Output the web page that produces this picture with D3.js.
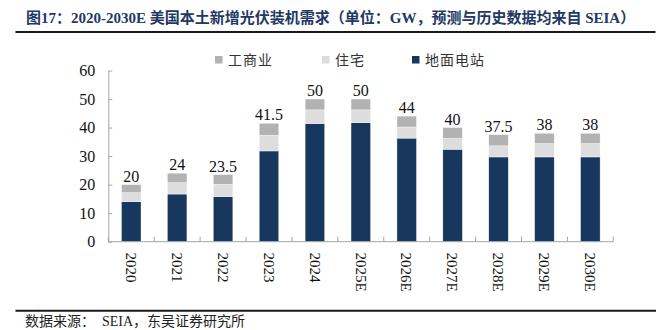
<!DOCTYPE html>
<html><head><meta charset="utf-8">
<script src="https://cdn.jsdelivr.net/npm/d3@7/dist/d3.min.js"></script>
<style>
html,body{margin:0;padding:0;background:#fff;}
svg{display:block;}
</style></head>
<body>
<svg id="chart" width="666" height="330"></svg>
<script>
// ---- data ----
const categories = ["2020","2021","2022","2023","2024","2025E","2026E","2027E","2028E","2029E","2030E"];
const groundValues = [14.0, 16.7, 15.8, 31.8, 41.4, 41.7, 36.3, 32.4, 29.7, 29.7, 29.7];
const residentialValues = [3.2, 4.0, 4.3, 5.5, 4.8, 4.5, 3.9, 3.8, 3.9, 4.7, 4.7];
const commercialValues = [2.8, 3.3, 3.4, 4.2, 3.8, 3.8, 3.8, 3.8, 3.9, 3.6, 3.6];
const totalLabels = ["20","24","23.5","41.5","50","50","44","40","37.5","38","38"];
const yTicks = [0,10,20,30,40,50,60];
const seriesNames = ["地面电站","住宅","工商业"];
const legendOrder = ["工商业","住宅","地面电站"];
const titleText = "图17：2020-2030E 美国本土新增光伏装机需求（单位：GW，预测与历史数据均来自 SEIA）";
const sourceText = "数据来源：  SEIA，东吴证券研究所";

const colors = {"地面电站":"#17375E","住宅":"#DDDDDD","工商业":"#B2B2B2"};
const serif = "'Liberation Serif','Times New Roman','Noto Sans CJK SC',serif";

const svg = d3.select("#chart");

// title
svg.append("text").attr("x",26).attr("y",22.5)
  .attr("font-family",serif).attr("font-weight","bold").attr("font-size",15)
  .attr("fill","#1F3864").text(titleText);
svg.append("line").attr("x1",15.5).attr("x2",655.5).attr("y1",32).attr("y2",32)
  .attr("stroke","#1a1a1a").attr("stroke-width",2);

// scales
const x = d3.scaleBand().domain(categories).range([108.3,613.3])
  .paddingInner(0.575).paddingOuter(0.2875);
const y = d3.scaleLinear().domain([0,60]).range([241.7,70.5]);

// stacked data
const rows = categories.map((c,i)=>({cat:c,"地面电站":groundValues[i],"住宅":residentialValues[i],"工商业":commercialValues[i]}));
const stack = d3.stack().keys(seriesNames)(rows);

const g = svg.append("g");
stack.forEach(layer=>{
  g.selectAll(null).data(layer).enter().append("rect")
    .attr("x",d=>x(d.data.cat))
    .attr("width",x.bandwidth())
    .attr("y",d=>y(d[1]))
    .attr("height",d=>y(d[0])-y(d[1]))
    .attr("fill",colors[layer.key])
    .attr("stroke","#ffffff").attr("stroke-width",0.5).attr("stroke-opacity",0.7);
});

// total labels
g.selectAll(null).data(rows).enter().append("text")
  .attr("x",d=>x(d.cat)+x.bandwidth()/2)
  .attr("y",(d,i)=>y(stack[2][i][1])-3)
  .attr("text-anchor","middle")
  .attr("font-family",serif).attr("font-size",16).attr("fill","#111")
  .text((d,i)=>totalLabels[i]);

// y axis
const axisColor = "#A6A6A6";
const yAxis = svg.append("g").attr("transform","translate(108.3,0)")
  .call(d3.axisLeft(y).tickValues(yTicks).tickSizeInner(-4).tickSizeOuter(0).tickPadding(13));
yAxis.select(".domain").attr("stroke",axisColor);
yAxis.selectAll(".tick line").attr("stroke",axisColor);
yAxis.selectAll(".tick text").attr("font-family",serif).attr("font-size",16).attr("fill","#111");

// x axis line
const x0 = x.range()[0], x1 = x.range()[1];
svg.append("line").attr("x1",x0).attr("x2",x1).attr("y1",y(0)).attr("y2",y(0))
  .attr("stroke",axisColor).attr("stroke-width",1);
// boundary ticks
const step = x.step();
const boundaries = categories.map(c=>x(c)-step*x.paddingInner()/2).concat([x(categories[categories.length-1])+x.bandwidth()+step*x.paddingInner()/2]);
svg.selectAll(null).data(boundaries).enter().append("line")
  .attr("x1",d=>d).attr("x2",d=>d).attr("y1",y(0)).attr("y2",y(0)-5)
  .attr("stroke",axisColor).attr("stroke-width",1);

// x labels rotated
svg.selectAll(null).data(categories).enter().append("text")
  .attr("transform",d=>`translate(${x(d)+x.bandwidth()/2},252.5) rotate(90)`)
  .attr("dy","0.35em")
  .attr("font-family",serif).attr("font-size",15).attr("fill","#111")
  .text(d=>d);

// legend
const legendX = [215,322,412];
legendOrder.forEach((name,i)=>{
  svg.append("rect").attr("x",legendX[i]).attr("y",56).attr("width",7.5).attr("height",7.5)
    .attr("fill",colors[name]);
  svg.append("text").attr("x",legendX[i]+13).attr("y",64.5)
    .attr("font-family","'Noto Sans CJK SC',sans-serif").attr("font-size",14)
    .attr("fill","#333").attr("letter-spacing",1).text(name);
});

// bottom rule & source
svg.append("line").attr("x1",15.5).attr("x2",656).attr("y1",310.7).attr("y2",310.7)
  .attr("stroke","#1a1a1a").attr("stroke-width",2);
svg.append("text").attr("x",25).attr("y",326)
  .attr("font-family",serif).attr("font-size",14).attr("fill","#222")
  .attr("xml:space","preserve").style("white-space","pre").text(sourceText);
</script>
</body></html>
